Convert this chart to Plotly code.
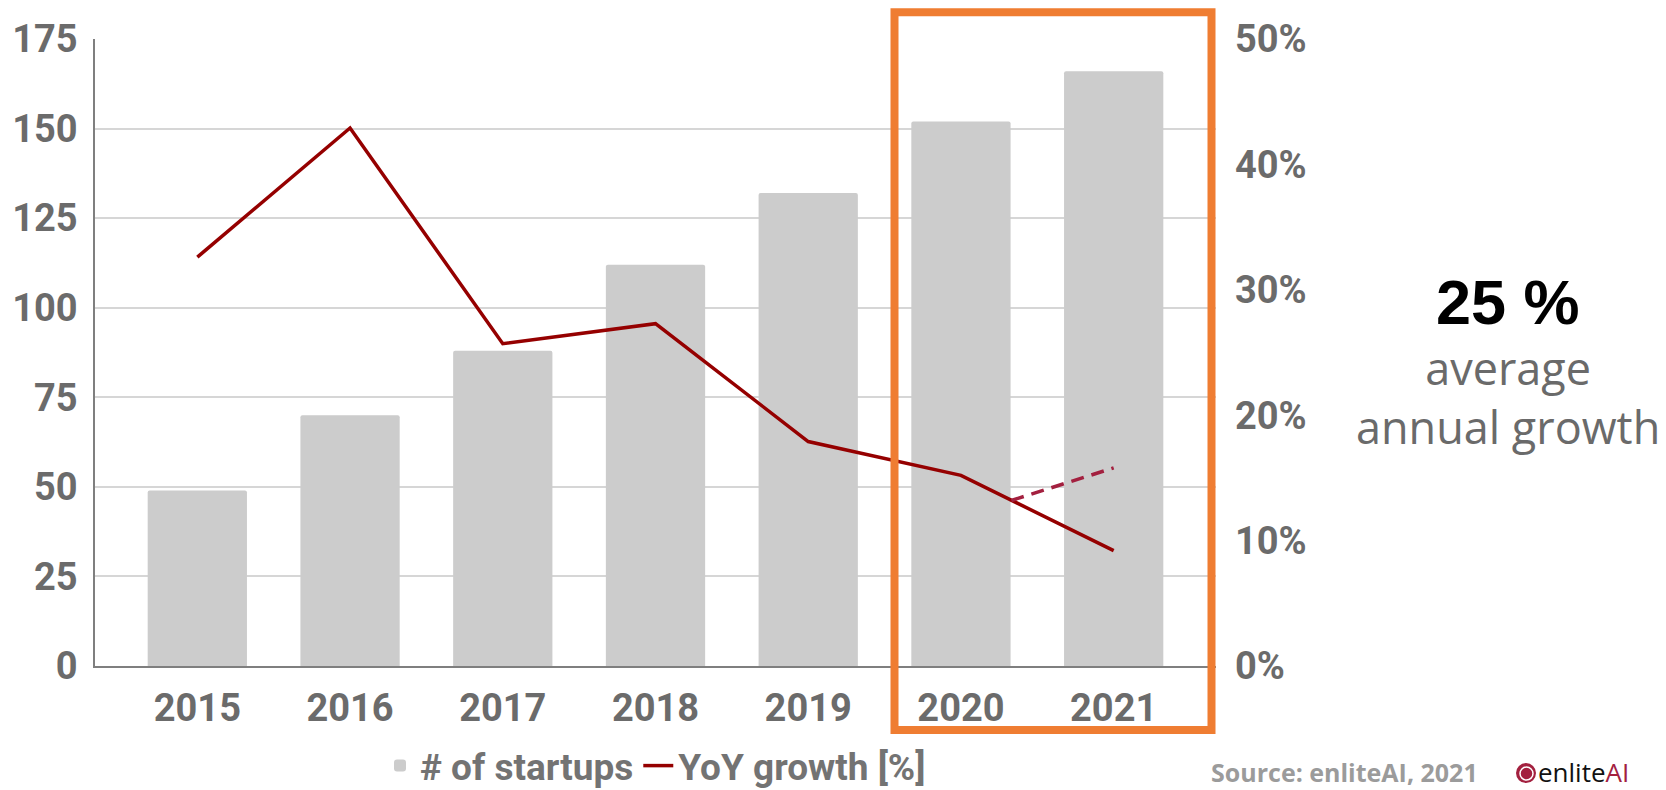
import plotly.graph_objects as go

# ---------------- data ----------------
years = [2015, 2016, 2017, 2018, 2019, 2020, 2021]
year_labels = ["2015", "2016", "2017", "2018", "2019", "2020", "2021"]
startups = [49, 70, 88, 112, 132, 152, 166]
yoy_growth = [0.326, 0.429, 0.257, 0.273, 0.179, 0.152, 0.092]
proj_x = [2020.33, 2021]
proj_growth = [0.132, 0.158]
left_ticks = [0, 25, 50, 75, 100, 125, 150, 175]
right_ticks = [0, 0.1, 0.2, 0.3, 0.4, 0.5]

# ---------------- layout geometry (pixels) ----------------
W, H = 1666, 790
PL, PR, PT, PB = 95, 1216, 39.3, 666.0


def px_x(x):
    return (x - PL) / (PR - PL)


def px_y(y):
    return (PB - y) / (PB - PT)


TICK_FONT = dict(family="Roboto", size=38, color="#6b6b6b", weight=700)

fig = go.Figure()
fig.add_trace(go.Bar(
    x=years, y=startups, name="# of startups",
    marker=dict(color="#cccccc", line=dict(width=0)), width=0.65,
))
fig.add_trace(go.Scatter(
    x=years, y=yoy_growth, name="YoY growth [%]", yaxis="y2",
    mode="lines", line=dict(color="#950000", width=3.5),
))
fig.add_trace(go.Scatter(
    x=proj_x, y=proj_growth, yaxis="y2", showlegend=False,
    mode="lines", line=dict(color="#a3203f", width=3.5, dash="13px,8px"),
))

fig.update_layout(
    width=W, height=H,
    margin=dict(l=PL, r=W - PR, t=PT, b=H - PB, autoexpand=False),
    paper_bgcolor="white", plot_bgcolor="white",
    barcornerradius=2,
    xaxis=dict(
        range=[2014.33, 2021.67], tickmode="array", tickvals=years, ticktext=year_labels,
        showline=True, linecolor="#7f7f7f", linewidth=1.5, showgrid=False, zeroline=False,
        tickfont=TICK_FONT, ticklabelstandoff=8,
    ),
    yaxis=dict(
        range=[0, 175], tickmode="array", tickvals=left_ticks,
        showline=True, linecolor="#7f7f7f", linewidth=1.5,
        showgrid=True, gridcolor="#d6d6d6", gridwidth=2, zeroline=False,
        tickfont=TICK_FONT, ticklabelstandoff=8,
    ),
    yaxis2=dict(
        range=[0, 0.5], overlaying="y", side="right", tickmode="array", tickvals=right_ticks,
        tickformat=".0%", showgrid=False, zeroline=False, showline=False,
        tickfont=TICK_FONT, ticklabelstandoff=18,
    ),
    legend=dict(
        orientation="h", x=0.5, xanchor="center", y=px_y(766), yanchor="middle",
        font=dict(family="Roboto", size=37, color="#737373", weight=700),
        bgcolor="rgba(0,0,0,0)", itemwidth=30,
    ),
    showlegend=True,
)

# orange highlight box around 2020-2021
fig.add_shape(
    type="rect", xref="paper", yref="paper",
    x0=px_x(894.5), x1=px_x(1211.5), y0=px_y(730), y1=px_y(12.5),
    line=dict(color="#ef7d32", width=8), fillcolor="rgba(0,0,0,0)", layer="above",
)

# right-side callout
fig.add_annotation(
    xref="paper", yref="paper", x=px_x(1508), y=px_y(302), xanchor="center", yanchor="middle",
    text="<b>25 %</b>", showarrow=False, borderpad=0,
    font=dict(family="Liberation Sans", size=63, color="#000000"),
)
fig.add_annotation(
    xref="paper", yref="paper", x=px_x(1508), y=px_y(397), xanchor="center", yanchor="middle",
    text="average<br>annual growth", showarrow=False, borderpad=0, align="center",
    font=dict(family="Open Sans", size=45, color="#6a6a6a"),
)

# source + logo
fig.add_annotation(
    xref="paper", yref="paper", x=px_x(1210), y=px_y(772), xanchor="left", yanchor="middle",
    text="<b>Source: enliteAI, 2021</b>", showarrow=False, borderpad=0,
    font=dict(family="Open Sans", size=25, color="#9b9b9b"),
)
fig.add_shape(
    type="circle", xref="paper", yref="paper",
    x0=px_x(1516), x1=px_x(1536), y0=px_y(783), y1=px_y(763),
    fillcolor="#a3203f", line=dict(width=0), layer="above",
)
fig.add_shape(
    type="circle", xref="paper", yref="paper",
    x0=px_x(1520), x1=px_x(1533), y0=px_y(780), y1=px_y(767),
    fillcolor="rgba(0,0,0,0)", line=dict(width=1.5, color="white"), layer="above",
)
fig.add_annotation(
    xref="paper", yref="paper", x=px_x(1537), y=px_y(772), xanchor="left", yanchor="middle",
    text="enlite<span style='color:#a3203f'>AI</span>", showarrow=False, borderpad=0,
    font=dict(family="Open Sans", size=26, color="#111111"),
)

fig.write_html("out.html")
